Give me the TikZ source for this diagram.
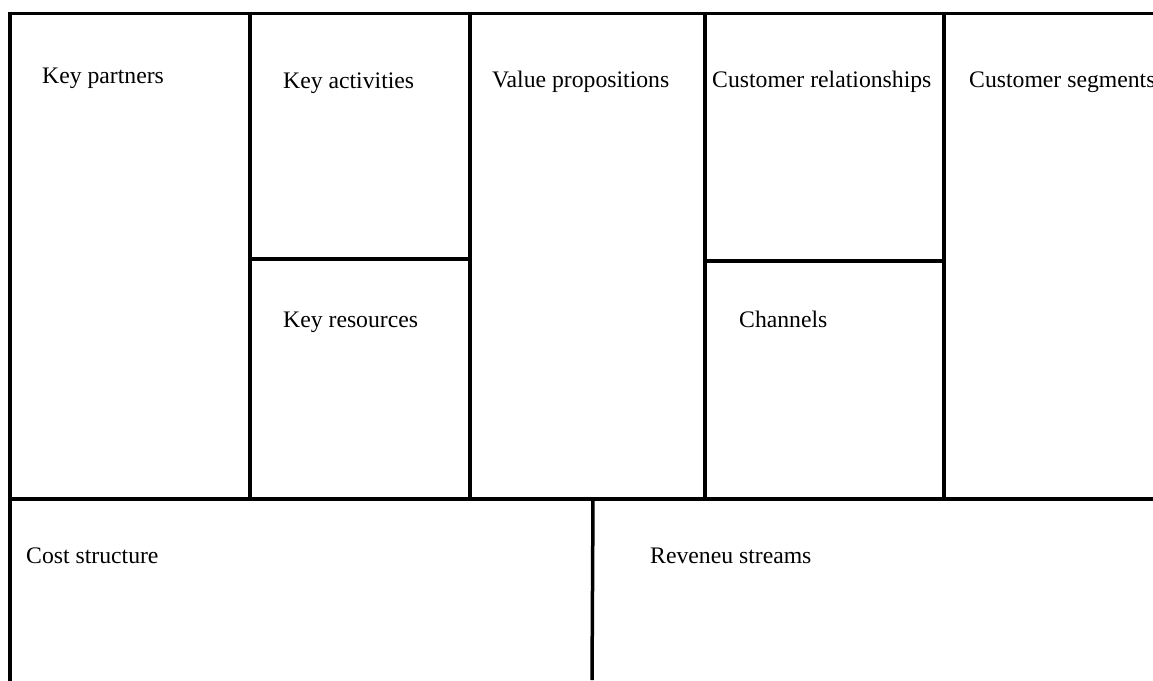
\documentclass[tikz,border=0pt]{standalone}
\usepackage{fontspec}
\setmainfont{Liberation Serif}
\begin{document}
\begin{tikzpicture}[x=1pt,y=-1pt,
  frame/.style={line width=3.5pt, line cap=rect},
  lbl/.style={anchor=base west, inner sep=0pt, font=\fontsize{23.7}{28}\selectfont}]
\useasboundingbox (0,0) rectangle (1153,680);
\begin{scope}
\clip (0,0) rectangle (1153,680);
% outer frame and main grid
\draw[frame] (10,680) -- (10,13.5) -- (1153,13.5);
\draw[frame] (10,499) -- (1153,499);
\draw[frame] (250,13.5) -- (250,499);
\draw[frame] (470,13.5) -- (470,499);
\draw[frame] (705,13.5) -- (705,499);
\draw[frame] (944,13.5) -- (944,499);
\draw[frame] (250,259) -- (470,259);
\draw[frame] (705,261) -- (944,261);
\draw[line width=3.5pt] (593,499) -- (592,680);
% labels
\node[lbl] (kp) at (42,83) {Key partners};
\node[lbl] (ka) at (283,88) {Key activities};
\node[lbl] (vp) at (492,87) {Value propositions};
\node[lbl] (cr) at (712,87) {Customer relationships};
\node[lbl] (cs) at (969,87) {Customer segments};
\node[lbl] (kr) at (283,327) {Key resources};
\node[lbl] (ch) at (739,327) {Channels};
\node[lbl] (co) at (26,563) {Cost structure};
\node[lbl] (rs) at (650,563) {Reveneu streams};
\end{scope}
\end{tikzpicture}
\end{document}
